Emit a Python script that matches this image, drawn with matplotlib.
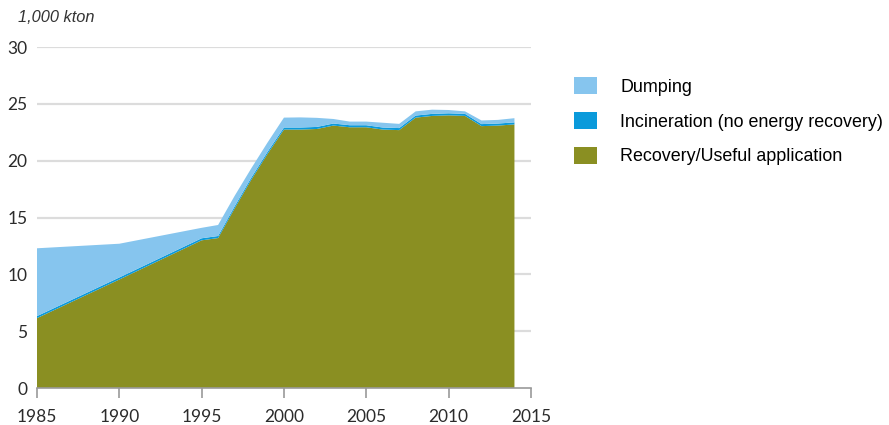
import matplotlib
matplotlib.use("Agg")
import matplotlib.pyplot as plt
from matplotlib.patches import Patch

years = [1985, 1990, 1995, 1996, 1997, 1998, 1999, 2000, 2001, 2002, 2003, 2004,
         2005, 2006, 2007, 2008, 2009, 2010, 2011, 2012, 2013, 2014]
recovery = [6.15, 9.55, 13.0, 13.2, 15.8, 18.3, 20.6, 22.75, 22.75, 22.8, 23.1, 22.95,
            22.95, 22.75, 22.7, 23.8, 23.95, 24.0, 23.95, 23.05, 23.1, 23.2]
incineration = [0.18] * 22
total = [12.3, 12.7, 14.1, 14.35, 16.9, 19.3, 21.6, 23.8, 23.82, 23.78, 23.68, 23.45,
         23.45, 23.35, 23.25, 24.35, 24.5, 24.47, 24.35, 23.55, 23.6, 23.75]
dumping = [t - r - i for t, r, i in zip(total, recovery, incineration)]

labels = ["Dumping", "Incineration (no energy recovery)", "Recovery/Useful application"]
colors = {"Dumping": "#86C5EE", "Incineration (no energy recovery)": "#0A9ADB",
          "Recovery/Useful application": "#8A8F22"}
xticks = [1985, 1990, 1995, 2000, 2005, 2010, 2015]
yticks = [0, 5, 10, 15, 20, 25, 30]

fig = plt.figure(figsize=(8.89, 4.25), dpi=100)
ax = fig.add_axes([0.0416, 0.087, 0.5556, 0.802])

ax.stackplot(years, recovery, incineration, dumping,
             colors=[colors[labels[2]], colors[labels[1]], colors[labels[0]]],
             linewidth=0, zorder=3)

ax.set_xlim(1985, 2015)
ax.set_ylim(0, 30)
ax.set_xticks(xticks)
ax.set_yticks(yticks)
ax.set_xticklabels([str(x) for x in xticks], fontsize=12.5, color="#2b2b2b",
                   family="Lato")
ax.set_yticklabels([str(y) for y in yticks], fontsize=12.5, color="#2b2b2b",
                   family="Lato")
for y in yticks[1:]:
    ax.axhline(y, color="#dcdcdc", lw=1.6, zorder=1)
for s in ["top", "right", "left"]:
    ax.spines[s].set_visible(False)
ax.spines["bottom"].set_color("#9a9a9a")
ax.spines["bottom"].set_linewidth(1.2)
ax.spines["bottom"].set_zorder(4)
ax.tick_params(axis="x", direction="out", length=7, width=1.2, color="#9a9a9a", pad=8)
ax.tick_params(axis="y", length=0, pad=7)

fig.text(0.02, 0.958, "1,000 kton", fontsize=11.8, style="italic", color="#333333",
         va="center", ha="left", family="Liberation Sans")

handles = [Patch(facecolor=colors[l], edgecolor="none") for l in labels]
fig.legend(handles, labels, loc="upper left", bbox_to_anchor=(0.638, 0.835),
           frameon=False, handlelength=1.27, handleheight=1.08,
           handletextpad=1.3, labelspacing=0.9, borderaxespad=0,
           prop={"family": "Liberation Sans", "size": 12.9})

fig.savefig("out.png", dpi=100, facecolor="white")
